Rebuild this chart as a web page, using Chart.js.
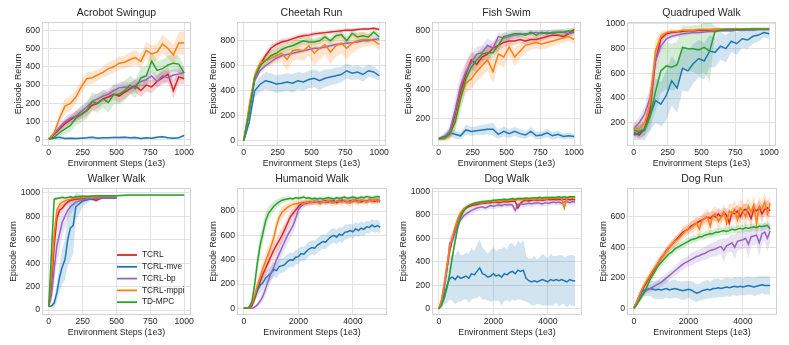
<!DOCTYPE html>
<html lang="en">
<head>
<meta charset="UTF-8">
<title>TCRL ablation curves</title>
<script src="https://cdn.jsdelivr.net/npm/chart.js"></script>
<style>
  body { margin: 0; background: #fff; }
  #grid { position: relative; width: 789px; height: 345px; overflow: hidden; }
  .panel { position: absolute; }
</style>
</head>
<body>
<div id="grid"></div>
<script>
// series names and x steps
const seriesNames = ['TCRL', 'TCRL-mve', 'TCRL-bp', 'TCRL-mppi', 'TD-MPC'];
const steps1k = [0,40,80,120,160,200,240,280,320,360,400,440,480,520,560,600,640,680,720,760,800,840,880,920,960,1000];
const stepsWalker = [0,20,40,60,80,100,120,140,160,180,200,250,300,350,400,450,500,600,700,800,900,1000];
const steps5k = [0,100,200,300,400,500,600,700,800,900,1000,1100,1200,1300,1400,1500,1600,1700,1800,1900,2000,
  2100,2200,2300,2400,2500,2600,2700,2800,2900,3000,3100,3200,3300,3400,3500,3600,3700,3800,3900,4000,
  4100,4200,4300,4400,4500,4600,4700,4800,4900,5000];
const xTicks1k = [0, 250, 500, 750, 1000];
const xTicks5k = [0, 2000, 4000];

// Acrobot Swingup
const acrobotTcrl = [5,30,60,90,110,130,140,160,190,200,225,235,250,240,260,280,295,270,300,290,320,340,360,270,345,335];
const acrobotTcrlSd = [3,10,20,20,25,25,25,30,30,30,30,30,30,35,35,30,35,35,35,35,35,35,40,45,40,30];
const acrobotMve = [5,10,15,8,10,8,10,12,15,10,12,12,14,13,15,12,14,8,12,10,15,18,12,10,12,25];
const acrobotMveSd = [3,5,6,5,5,5,5,6,6,6,6,6,6,6,6,6,6,5,6,6,6,7,6,6,6,8];
const acrobotBp = [5,35,70,100,120,130,155,180,210,225,240,250,270,285,290,285,300,320,330,350,320,350,340,355,360,370];
const acrobotBpSd = [3,12,20,25,25,30,30,30,30,30,30,30,30,30,30,30,30,30,30,30,35,35,35,35,35,35];
const acrobotMppi = [5,40,120,185,200,235,290,335,340,355,370,390,400,420,425,440,450,430,490,470,480,525,500,465,530,530];
const acrobotMppiSd = [5,15,30,40,40,40,35,35,35,30,30,35,35,35,35,40,40,40,45,45,45,50,50,55,60,65];
const acrobotTdmpc = [5,15,40,60,80,120,140,160,210,200,225,205,250,250,270,300,280,340,350,430,380,390,410,420,415,365];
const acrobotTdmpcSd = [3,10,20,30,35,40,45,45,50,50,50,55,55,55,55,50,50,55,55,55,50,50,50,45,45,40];

// Cheetah Run
const cheetahTcrl = [0,250,500,600,680,740,770,790,800,815,830,840,845,855,860,865,870,875,880,885,885,890,895,895,900,890];
const cheetahTcrlSd = [10,40,40,30,30,30,25,25,25,20,20,20,20,20,15,15,15,15,15,15,15,12,12,12,12,12];
const cheetahMve = [0,150,400,450,480,470,455,460,470,460,480,470,490,500,480,500,510,520,530,560,540,550,530,560,550,520];
const cheetahMveSd = [10,40,50,60,70,70,70,70,70,75,70,70,70,70,75,70,65,65,60,60,55,55,55,50,45,40];
const cheetahBp = [0,230,480,560,600,630,660,680,690,700,710,720,730,740,740,750,760,770,775,780,785,790,800,800,810,815];
const cheetahBpSd = [10,30,30,25,20,20,20,18,18,18,15,15,15,15,15,15,15,15,15,15,15,15,15,15,15,15];
const cheetahMppi = [0,280,520,620,640,660,680,700,650,720,730,720,760,700,740,770,710,760,780,740,780,800,810,810,800,770];
const cheetahMppiSd = [10,40,40,40,50,60,60,70,90,80,80,80,80,100,90,80,100,90,80,90,80,70,60,50,40,40];
const cheetahTdmpc = [0,230,500,600,640,680,700,730,750,760,780,800,790,790,800,830,800,840,850,800,860,830,840,830,870,830];
const cheetahTdmpcSd = [10,40,40,40,40,40,40,35,35,35,35,30,30,30,30,30,30,30,30,30,30,30,30,30,30,30];

// Fish Swim
const fishTcrl = [60,65,100,220,380,500,600,570,620,640,680,700,720,730,730,740,730,740,740,750,760,770,770,760,780,810];
const fishTcrlSd = [10,15,30,60,70,70,60,60,50,50,40,40,30,30,30,25,25,25,25,20,20,20,20,20,20,20];
const fishMve = [60,75,100,90,80,120,110,115,120,125,125,90,110,95,110,95,85,110,80,85,100,80,90,75,80,75];
const fishMveSd = [10,20,25,30,25,35,30,30,35,35,45,30,35,30,30,30,25,30,25,25,30,25,25,20,20,20];
const fishBp = [60,70,110,250,420,520,580,640,650,700,680,760,750,760,770,775,780,780,790,780,790,780,790,790,780,790];
const fishBpSd = [10,20,40,80,80,70,60,50,50,50,40,30,30,25,25,20,20,20,20,20,20,20,20,20,20,20];
const fishMppi = [60,60,80,180,340,440,470,520,560,600,520,640,620,690,620,660,700,710,720,710,720,730,740,750,760,740];
const fishMppiSd = [10,15,30,60,70,70,70,70,70,70,80,70,70,60,60,50,50,40,40,40,40,35,30,30,30,30];
const fishTdmpc = [60,65,90,170,330,470,550,600,640,650,650,700,760,770,780,780,770,790,770,790,780,790,790,790,800,790];
const fishTdmpcSd = [10,15,30,60,80,70,60,50,50,45,40,40,30,30,25,25,20,20,20,20,20,20,20,20,20,20];

// Quadruped Walk
const quadTcrl = [120,100,150,300,700,880,920,930,935,940,945,945,950,950,950,955,955,955,955,960,955,955,960,960,960,960];
const quadTcrlSd = [30,30,50,100,100,40,20,15,15,12,12,10,10,10,10,10,10,10,10,10,10,10,10,10,10,10];
const quadMve = [100,120,140,250,380,350,420,540,480,640,620,680,720,700,780,770,820,800,860,840,880,870,900,910,930,920];
const quadMveSd = [40,60,80,120,180,180,200,200,200,180,170,160,150,150,130,120,110,110,90,90,70,70,60,50,40,40];
const quadBp = [150,200,270,400,700,820,880,900,910,920,925,930,930,935,940,940,945,945,945,950,950,950,950,955,955,955];
const quadBpSd = [40,50,60,100,80,50,30,25,20,20,15,15,15,12,12,12,10,10,10,10,10,10,10,10,10,10];
const quadMppi = [160,150,200,350,780,900,930,940,940,950,950,950,955,955,955,958,958,958,960,960,960,960,962,962,962,962];
const quadMppiSd = [40,50,60,120,90,40,20,15,12,12,10,10,10,10,10,10,10,10,10,10,10,10,10,10,10,10];
const quadTdmpc = [140,130,150,250,450,620,660,650,670,810,800,800,790,810,780,940,950,955,955,955,955,960,960,960,960,960];
const quadTdmpcSd = [40,50,60,100,160,180,190,190,190,180,180,190,200,200,250,40,20,15,12,12,10,10,10,10,10,10];

// Walker Walk (first four series stop at 500)
const walkerTcrl = [30,200,550,780,850,870,900,920,935,940,945,950,955,935,960,960,960];
const walkerTcrlSd = [5,80,100,60,40,30,25,20,15,12,12,10,10,20,10,10,10];
const walkerMve = [30,35,60,150,280,370,430,600,700,720,880,930,945,950,955,955,955];
const walkerMveSd = [5,10,40,80,120,150,170,220,280,240,120,50,20,15,10,10,10];
const walkerBp = [30,120,350,550,650,750,800,850,880,900,920,940,950,955,955,960,960];
const walkerBpSd = [5,50,120,150,150,120,100,80,60,50,40,25,15,10,10,10,10];
const walkerMppi = [30,300,650,850,900,920,930,940,945,950,955,960,965,965,970,970,970];
const walkerMppiSd = [5,100,100,60,40,30,25,20,15,12,10,10,10,10,10,10,10];
const walkerTdmpc = [30,500,945,950,955,960,955,960,965,960,965,970,970,975,975,975,975,980,980,980,980,980];
const walkerTdmpcSd = [5,100,20,12,10,10,10,10,10,10,10,10,8,8,8,8,8,8,8,8,8,8];

// Humanoid Walk
const humTcrl = [0,0,0,20,80,150,220,280,330,380,430, 480,520,560,600,650,700,750,780,810,835,
  860,870,865,875,870,880,875,870,880,885, 875,880,885,870,880,890,880,875,885,880,
  890,880,875,885,880,890,885,880,890,885];
const humTcrlSd = [0,0,5,15,30,40,50,55,60,60,60, 60,60,60,60,55,50,45,40,35,30,
  25,20,20,20,20,20,20,20,20,20, 20,20,20,20,20,20,20,20,20,20, 20,20,20,20,20,20,20,20,20,20];
const humMve = [0,0,10,40,100,150,190,210,250,270,290, 320,310,345,350,360,385,400,395,420,425,
  450,445,470,490,500,495,520,535,550,545, 570,590,600,585,610,600,625,630,640,630,
  655,640,660,650,670,665,685,670,680,665];
const humMveSd = [0,0,10,20,40,50,55,60,60,60,60, 60,60,60,60,60,60,60,60,60,60,
  60,60,60,60,60,60,60,60,60,60, 60,60,60,60,60,60,60,60,55,55, 55,55,55,55,50,50,50,50,50,50];
const humBp = [0,0,0,0,10,30,60,100,160,230,290, 340,400,450,500,550,600,640,680,740,810,
  840,855,865,870,875,870,880,875,880,870, 880,885,875,880,890,880,885,875,880,890,
  885,880,890,885,880,890,885,895,890,885];
const humBpSd = [0,0,0,5,10,20,30,40,50,60,70, 70,70,70,70,70,70,70,65,60,50,
  40,30,25,20,20,20,20,20,20,20, 20,20,20,20,20,20,20,20,20,20, 20,20,20,20,20,20,20,20,20,20];
const humMppi = [0,0,5,40,110,190,260,330,390,450,510, 580,680,750,790,810,830,845,855,860,865,
  870,860,880,865,875,885,870,860,880,875, 890,870,865,885,880,870,890,875,865,890,
  880,870,895,885,870,890,880,895,875,890];
const humMppiSd = [0,0,5,20,40,50,60,60,60,60,60, 60,60,55,50,45,40,35,35,30,30,
  30,30,30,30,30,30,30,30,30,30, 30,30,30,30,30,30,30,30,30,30, 30,30,30,30,30,30,30,30,30,30];
const humTdmpc = [0,0,10,60,200,380,520,620,720,780,810, 840,860,875,890,895,900,905,900,910,905,
  910,915,905,910,900,905,900,905,900,905, 910,905,900,910,905,910,915,905,910,915,
  910,905,915,910,920,915,910,915,920,915];
const humTdmpcSd = [0,0,10,40,80,90,90,80,70,60,50, 40,35,30,25,20,20,15,15,15,15,
  15,15,15,15,15,15,15,15,15,15, 15,15,15,15,15,15,15,15,15,15, 15,15,15,15,15,15,15,15,15,15];

// Dog Walk
const dogWalkTcrl = [0,70,200,350,490,600,690,760,810,840,860, 870,880,885,890,895,900,900,905,905,910,
  910,905,910,915,910,915,920,915,860,900, 920,925,920,925,930,925,930,925,930,935,
  930,935,930,935,930,935,935,930,935,930];
const dogWalkTcrlSd = [0,20,40,40,40,35,30,25,20,20,15, 15,15,15,15,15,15,15,15,15,15,
  15,15,15,15,15,15,15,15,30,15, 15,15,15,15,15,15,15,15,15,15, 15,15,15,15,15,15,15,15,15,15];
const dogWalkMve = [0,40,120,200,260,270,250,280,260,270,280, 260,300,290,320,350,300,290,270,280,300,
  280,290,270,300,290,310,320,300,330,320, 330,260,240,230,240,230,240,250,240,230,
  250,240,250,240,250,240,230,250,240,240];
const dogWalkMveSd = [0,30,80,150,180,200,210,220,200,190,200, 210,220,200,230,240,220,210,200,220,230,
  210,220,240,230,220,250,240,230,250,240, 260,200,190,200,210,190,200,220,210,200,
  220,210,200,220,210,200,220,210,220,210];
const dogWalkBp = [0,60,180,340,560,580,650,720,760,790,810, 825,840,850,860,865,870,860,870,880,875,
  880,885,880,890,885,890,885,840,890,895, 890,895,900,895,900,905,900,895,905,900,
  905,910,905,910,900,910,915,905,915,910];
const dogWalkBpSd = [0,20,40,50,60,50,45,40,35,30,30, 30,30,30,30,25,25,25,25,25,25,
  25,25,25,25,25,25,25,40,25,25, 25,25,25,25,25,25,25,25,25,25, 25,25,25,25,25,25,25,25,25,25];
const dogWalkMppi = [0,80,220,380,520,620,700,770,820,850,870, 880,890,895,900,905,905,910,910,915,915,
  920,915,920,925,920,925,930,925,930,930, 935,930,935,935,930,940,935,940,935,940,
  940,945,940,945,940,860,945,950,945,950];
const dogWalkMppiSd = [0,30,50,50,45,40,35,30,25,20,20, 15,15,15,15,15,15,15,15,15,15,
  15,15,15,15,15,15,15,15,15,15, 15,15,15,15,15,15,15,15,15,15, 15,15,15,15,15,40,15,15,15,15];
const dogWalkTdmpc = [0,30,90,180,300,450,580,700,780,830,860, 880,890,900,905,910,915,915,920,920,925,
  925,930,930,935,930,935,940,935,940,940, 940,945,940,945,945,945,950,945,950,950,
  950,950,950,955,950,955,950,955,955,955];
const dogWalkTdmpcSd = [0,10,20,30,40,50,50,40,30,25,20, 15,15,15,15,12,12,12,12,12,12,
  12,12,12,12,12,12,12,12,12,12, 12,12,12,12,12,12,12,12,12,12, 12,12,12,12,12,12,12,12,12,12];

// Dog Run
const dogRunTcrl = [0,40,80,120,150,180,210,240,270,300,330, 350,380,400,420,440,460,480,500,510,520,
  540,550,560,570,580,590,600,590,610,600, 620,600,630,610,560,630,620,640,600,640,
  650,630,590,650,640,660,620,650,660,640];
const dogRunTcrlSd = [0,10,15,20,20,25,25,25,25,25,25, 25,25,25,25,25,25,25,25,25,25,
  30,30,30,30,30,30,30,40,30,30, 40,40,30,40,50,30,40,40,50,40, 40,50,60,40,40,50,60,40,50,50];
const dogRunMve = [0,40,80,110,120,125,130,125,120,125,120, 125,130,120,125,130,125,120,115,120,125,
  120,110,100,105,115,120,125,120,130,130, 135,130,135,140,135,140,145,140,145,140,
  145,150,145,140,145,150,155,150,150,150];
const dogRunMveSd = [0,10,20,30,40,45,50,55,60,60,60, 60,60,55,60,60,55,60,60,60,55,
  60,60,60,55,60,60,60,55,60,60, 60,55,60,60,60,55,60,60,60,55, 60,60,55,60,60,60,55,60,60,60];
const dogRunBp = [0,30,60,90,110,120,130,140,150,160,170, 185,200,215,230,245,260,275,290,300,310,
  320,330,340,345,355,360,370,380,385,390, 400,405,380,410,420,430,400,440,445,450,
  460,420,470,475,480,430,490,500,460,510];
const dogRunBpSd = [0,10,15,20,20,20,25,25,25,30,30, 30,30,30,30,30,35,35,35,35,35,
  40,40,40,40,40,45,45,45,45,50, 50,50,80,50,50,60,80,60,60,60, 60,90,60,60,60,90,60,60,90,70];
const dogRunMppi = [0,40,85,125,160,190,220,250,275,300,325, 350,375,400,420,440,450,470,490,510,520,
  530,545,560,520,575,590,600,540,610,620, 570,600,630,560,640,620,650,580,660,640,
  600,670,630,680,560,670,650,700,620,690];
const dogRunMppiSd = [0,10,15,20,25,25,30,30,30,30,30, 30,30,30,30,35,35,35,40,40,40,
  40,45,45,70,45,45,50,80,50,50, 70,50,50,80,50,60,60,90,60,60, 80,60,60,60,100,60,60,60,80,60];
const dogRunTdmpc = [0,20,50,80,110,150,190,220,250,280,300, 320,340,360,370,390,400,410,420,430,440,
  450,455,460,470,470,480,485,490,490,500, 500,505,510,505,510,520,515,520,525,520,
  530,525,530,535,530,540,535,540,545,520];
const dogRunTdmpcSd = [0,10,15,20,25,25,25,25,25,25,25, 25,25,25,25,25,25,25,25,25,25,
  25,25,25,25,25,25,25,25,25,25, 25,25,25,25,25,25,25,25,25,25, 25,25,25,25,25,25,25,25,25,25];

// look
const seriesColors = ['#d62728', '#1f77b4', '#9467bd', '#ff7f0e', '#2ca02c'];
const bandColors = ['rgba(214,39,40,0.2)', 'rgba(31,119,180,0.2)', 'rgba(148,103,189,0.2)', 'rgba(255,127,14,0.2)', 'rgba(44,160,44,0.2)'];
const textColor = '#262626';
const gridColor = '#e2e2e2';
const fontFamily = "'Liberation Sans', Arial, sans-serif";

const panels = [
  { title: 'Acrobot Swingup', steps: steps1k, xTicks: xTicks1k, xMin: -50, xMax: 1050,
    yTicks: [0,100,200,300,400,500,600], yMin: -33, yMax: 645, yPad: 13,
    series: [[acrobotTcrl, acrobotTcrlSd], [acrobotMve, acrobotMveSd], [acrobotBp, acrobotBpSd], [acrobotMppi, acrobotMppiSd], [acrobotTdmpc, acrobotTdmpcSd]] },
  { title: 'Cheetah Run', steps: steps1k, xTicks: xTicks1k, xMin: -50, xMax: 1050,
    yTicks: [0,200,400,600,800], yMin: -42, yMax: 950, yPad: 13,
    series: [[cheetahTcrl, cheetahTcrlSd], [cheetahMve, cheetahMveSd], [cheetahBp, cheetahBpSd], [cheetahMppi, cheetahMppiSd], [cheetahTdmpc, cheetahTdmpcSd]] },
  { title: 'Fish Swim', steps: steps1k, xTicks: xTicks1k, xMin: -50, xMax: 1050,
    yTicks: [200,400,600,800], yMin: 10, yMax: 860, yPad: 13,
    series: [[fishTcrl, fishTcrlSd], [fishMve, fishMveSd], [fishBp, fishBpSd], [fishMppi, fishMppiSd], [fishTdmpc, fishTdmpcSd]] },
  { title: 'Quadruped Walk', steps: steps1k, xTicks: xTicks1k, xMin: -50, xMax: 1050,
    yTicks: [200,400,600,800,1000], yMin: 11, yMax: 1016, yPad: 8,
    series: [[quadTcrl, quadTcrlSd], [quadMve, quadMveSd], [quadBp, quadBpSd], [quadMppi, quadMppiSd], [quadTdmpc, quadTdmpcSd]] },
  { title: 'Walker Walk', steps: stepsWalker, xTicks: xTicks1k, xMin: -50, xMax: 1050, legend: true,
    yTicks: [0,200,400,600,800,1000], yMin: -42, yMax: 1040, yPad: 8,
    series: [[walkerTcrl, walkerTcrlSd], [walkerMve, walkerMveSd], [walkerBp, walkerBpSd], [walkerMppi, walkerMppiSd], [walkerTdmpc, walkerTdmpcSd]] },
  { title: 'Humanoid Walk', steps: steps5k, xTicks: xTicks5k, xMin: -250, xMax: 5250,
    yTicks: [0,200,400,600,800], yMin: -55, yMax: 990, yPad: 13,
    series: [[humTcrl, humTcrlSd], [humMve, humMveSd], [humBp, humBpSd], [humMppi, humMppiSd], [humTdmpc, humTdmpcSd]] },
  { title: 'Dog Walk', steps: steps5k, xTicks: xTicks5k, xMin: -250, xMax: 5250,
    yTicks: [0,200,400,600,800,1000], yMin: -52, yMax: 1030, yPad: 8,
    series: [[dogWalkTcrl, dogWalkTcrlSd], [dogWalkMve, dogWalkMveSd], [dogWalkBp, dogWalkBpSd], [dogWalkMppi, dogWalkMppiSd], [dogWalkTdmpc, dogWalkTdmpcSd]] },
  { title: 'Dog Run', steps: steps5k, xTicks: xTicks5k, xMin: -250, xMax: 5250,
    yTicks: [0,200,400,600], yMin: -44, yMax: 790, yPad: 13,
    series: [[dogRunTcrl, dogRunTcrlSd], [dogRunMve, dogRunMveSd], [dogRunBp, dogRunBpSd], [dogRunMppi, dogRunMppiSd], [dogRunTdmpc, dogRunTdmpcSd]] }
];

// full box round the plot area, like the matplotlib spines
const framePlugin = {
  id: 'frame',
  afterDatasetsDraw(chart) {
    const a = chart.chartArea, ctx = chart.ctx;
    ctx.save();
    ctx.strokeStyle = '#d2d2d2';
    ctx.lineWidth = 1;
    ctx.strokeRect(Math.round(a.left) + 0.5, Math.round(a.top) + 0.5,
      Math.round(a.right - a.left) - 1, Math.round(a.bottom - a.top) - 1);
    ctx.restore();
  }
};

// panel title centred over the plot area, not the whole canvas
const panelTitle = {
  id: 'panelTitle',
  afterDraw(chart, args, opts) {
    const a = chart.chartArea, ctx = chart.ctx;
    ctx.save();
    ctx.font = '10.5px ' + fontFamily;
    ctx.fillStyle = textColor;
    ctx.textAlign = 'center';
    ctx.textBaseline = 'middle';
    ctx.fillText(opts.text, (a.left + a.right) / 2, a.top - 8.5);
    ctx.restore();
  }
};

// legend drawn inside the plot (walker panel only)
const innerLegend = {
  id: 'innerLegend',
  afterDraw(chart, args, opts) {
    if (!opts.show) return;
    const a = chart.chartArea, ctx = chart.ctx;
    ctx.save();
    ctx.font = '8.3px ' + fontFamily;
    ctx.textBaseline = 'middle';
    seriesNames.forEach((name, k) => {
      const y = a.top + 67 + k * 11.8;
      ctx.strokeStyle = seriesColors[k];
      ctx.lineWidth = 1.8;
      ctx.beginPath();
      ctx.moveTo(a.left + 75, y);
      ctx.lineTo(a.left + 95, y);
      ctx.stroke();
      ctx.fillStyle = textColor;
      ctx.fillText(name, a.left + 100, y);
    });
    ctx.restore();
  }
};

Chart.defaults.font.family = fontFamily;
Chart.defaults.color = textColor;

const grid = document.getElementById('grid');

panels.forEach((p, i) => {
  const row = Math.floor(i / 4), col = i % 4;
  const box = document.createElement('div');
  box.className = 'panel';
  box.style.left = (col * 195) + 'px';
  box.style.top = (row ? 166 : 0) + 'px';
  const canvas = document.createElement('canvas');
  canvas.width = 195;
  canvas.height = row ? 179 : 172;
  box.appendChild(canvas);
  grid.appendChild(box);

  const datasets = [];
  // shaded bands first: upper edge fills down to lower edge
  p.series.forEach(([mean, sd], k) => {
    const edge = sign => mean.map((m, j) => ({ x: p.steps[j], y: m + sign * sd[j] }));
    datasets.push({ data: edge(1), borderWidth: 0, pointRadius: 0, backgroundColor: bandColors[k], fill: '+1', order: 100 });
    datasets.push({ data: edge(-1), borderWidth: 0, pointRadius: 0, fill: false, order: 100 });
  });
  p.series.forEach(([mean], k) => {
    datasets.push({
      label: seriesNames[k],
      data: mean.map((m, j) => ({ x: p.steps[j], y: m })),
      borderColor: seriesColors[k],
      borderWidth: 1.5,
      pointRadius: 0,
      fill: false,
      order: 10 - k
    });
  });

  new Chart(canvas, {
    type: 'line',
    data: { datasets },
    plugins: [framePlugin, panelTitle, innerLegend],
    options: {
      responsive: false,
      animation: false,
      layout: { padding: { left: 0, right: 3, top: 22, bottom: row ? 4 : 0 } },
      plugins: {
        legend: { display: false },
        tooltip: { enabled: false },
        title: { display: false },
        panelTitle: { text: p.title },
        innerLegend: { show: !!p.legend }
      },
      scales: {
        x: {
          type: 'linear', min: p.xMin, max: p.xMax,
          afterBuildTicks: s => { s.ticks = p.xTicks.map(v => ({ value: v })); },
          afterFit: s => { s.height = 26; },
          grid: { color: gridColor, drawTicks: false },
          border: { display: false },
          ticks: { padding: 1, autoSkip: false, maxRotation: 0, font: { size: 8.7 }, color: textColor, callback: v => String(v) },
          title: { display: true, text: 'Environment Steps (1e3)', color: textColor, font: { size: 8.8 }, padding: { top: 0, bottom: 3 } }
        },
        y: {
          type: 'linear', min: p.yMin, max: p.yMax,
          afterBuildTicks: s => { s.ticks = p.yTicks.map(v => ({ value: v })); },
          afterFit: s => { s.width = 42; },
          grid: { color: gridColor, drawTicks: false },
          border: { display: false },
          ticks: { padding: 2, autoSkip: false, font: { size: 8.7 }, color: textColor, callback: v => String(v) },
          title: { display: true, text: 'Episode Return', color: textColor, font: { size: 8.8 }, padding: { top: p.yPad, bottom: 0 } }
        }
      }
    }
  });
});
</script>
</body>
</html>
